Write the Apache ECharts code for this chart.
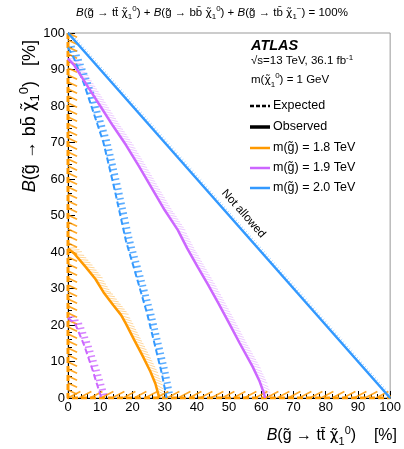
<!DOCTYPE html>
<html><head><meta charset="utf-8">
<script src="https://cdn.jsdelivr.net/npm/echarts@6/dist/echarts.min.js"></script>
<style>html,body{margin:0;padding:0;background:#fff}#c{width:404px;height:449px}</style>
</head><body><div id="c"></div>
<script>
// ---------- data (x = B(g->tt chi) %, y = B(g->bb chi) %) ----------
const xTickValues = [0,10,20,30,40,50,60,70,80,90,100];
const yTickValues = [0,10,20,30,40,50,60,70,80,90,100];
// observed contours
const obs18 = [[0,41],[1.9,39.6],[5.4,36],[8.5,32.6],[11,29],[14,25.5],[16.5,22.7],[18,20.3],[20.5,16],[23,11.8],[25.6,7.2],[27.1,4],[28.1,0.8],[28.3,0]];
const obs19 = [[0,93],[1.9,91.2],[6,85.5],[10,80],[14,74.5],[18,69.3],[22,63.5],[26,57.5],[30,51.5],[34.1,46],[37,41],[40.2,36],[43.5,31],[46.7,25.9],[50,20.5],[53.3,15],[57.3,8.6],[59.5,4.5],[60.8,1.3],[61.2,0]];
const obs20 = [[0,100],[25,75],[50,50],[75,25],[100,0]];
// expected contours
const exp18 = [[0,100],[0,0],[100,0]];
const exp19 = [[0,22],[2.4,20],[5,14.5],[7.5,8],[10,1],[10.4,0]];
const exp20 = [[0,96],[1.9,93],[5,86],[8,78],[11,70],[14.5,57],[18,43],[21,34],[24.6,23],[27.1,14],[29.1,6.8],[30.4,1],[30.6,0]];

const C18 = '#ff9900', C19 = '#cc66ff', C20 = '#3399ff';
const FONT = 'Liberation Sans, Arial, sans-serif';
const FONT_CHI = 'DejaVu Sans, Liberation Sans, sans-serif';

const chart = echarts.init(document.getElementById('c'), null, {renderer: 'canvas'});

function lineSeries(data, color, dashed, width) {
  return {
    type: 'line', data: data, showSymbol: false, symbol: 'none', silent: true, z: 5,
    lineStyle: {color: color, width: width, type: dashed ? [6, 3] : 'solid'},
    animation: false
  };
}

function hatchSeries(points, o) {
  return {
    type: 'custom', coordinateSystem: 'cartesian2d', silent: true, animation: false, z: 3, clip: true,
    data: [points[0]], encode: {x: 0, y: 1},
    renderItem: function (params, api) {
      const px = points.map(p => api.coord(p));
      const children = [];
      let carry = o.offset || 0;
      for (let i = 0; i < px.length - 1; i++) {
        const x0 = px[i][0], y0 = px[i][1], x1 = px[i + 1][0], y1 = px[i + 1][1];
        const dx = x1 - x0, dy = y1 - y0, len = Math.hypot(dx, dy);
        if (!len) continue;
        const ux = dx / len, uy = dy / len;
        let hx, hy;
        if (o.abs != null) {
          const a = o.abs * Math.PI / 180; hx = Math.cos(a); hy = -Math.sin(a);
        } else {
          const a = o.angle * Math.PI / 180;
          hx = ux * Math.cos(a) - uy * Math.sin(a); hy = ux * Math.sin(a) + uy * Math.cos(a);
        }
        let t = carry;
        while (t <= len) {
          const sx = x0 + ux * t, sy = y0 + uy * t;
          children.push({type: 'line', shape: {x1: sx, y1: sy, x2: sx + hx * o.len, y2: sy + hy * o.len},
            style: {stroke: o.color, lineWidth: o.width}});
          t += o.step;
        }
        carry = t - len;
      }
      return {type: 'group', children: children};
    }
  };
}

function mkRich(fs, lh) {
  return {
    i: {fontStyle: 'italic', fontFamily: FONT, fontSize: fs, lineHeight: lh, fill: '#000'},
    n: {fontFamily: FONT, fontSize: fs, lineHeight: lh, fill: '#000'},
    c: {fontFamily: FONT_CHI, fontSize: fs * 0.95, lineHeight: lh, fill: '#000'},
    sp: {fontFamily: FONT, fontSize: Math.round(fs * 0.7), lineHeight: Math.round(fs * 0.75), verticalAlign: 'top', fill: '#000'},
    sb: {fontFamily: FONT, fontSize: Math.round(fs * 0.7), lineHeight: Math.round(fs * 0.75), verticalAlign: 'bottom', fill: '#000'}
  };
}
const G = 'g\u0303', CHI = '\u03C7\u0303';
function br(prod, sup) {
  return '{i|B}{n|(' + G + ' \u2192 ' + prod + ' }{c|' + CHI + '}{sb|1}{sp|' + sup + '}{n|)}';
}
const titleText = br('tt\u0304', '0') + '{n| + }' + br('bb\u0304', '0') + '{n| + }' + br('tb\u0304', '\u2212') + '{n| = 100%}';
const xName = br('tt\u0304', '0') + '{n|    [%]}';
const yName = br('bb\u0304', '0') + '{n|   [%]}';

const legendRows = [
  {y: 106, label: 'Expected', color: '#000', dash: [4, 2], w: 2.5},
  {y: 127, label: 'Observed', color: '#000', dash: null, w: 3.5},
  {y: 148, label: 'm(' + G + ') = 1.8 TeV', color: C18, dash: null, w: 2.5},
  {y: 168, label: 'm(' + G + ') = 1.9 TeV', color: C19, dash: null, w: 2.5},
  {y: 188, label: 'm(' + G + ') = 2.0 TeV', color: C20, dash: null, w: 2.5}
];
const graphics = [
  {type: 'text', x: 212, y: 13, style: {text: titleText, rich: mkRich(11.5, 16), align: 'center', verticalAlign: 'middle'}},
  {type: 'text', x: 397, y: 436, style: {text: xName, rich: mkRich(16, 22), align: 'right', verticalAlign: 'middle'}},
  {type: 'text', x: 30, y: 40, rotation: Math.PI / 2, style: {text: yName, rich: mkRich(18, 24), align: 'right', verticalAlign: 'middle'}},
  {type: 'text', x: 251, y: 46, style: {text: 'ATLAS', fontFamily: FONT, fontWeight: 'bold', fontStyle: 'italic', fontSize: 14.5, fill: '#000', verticalAlign: 'middle'}},
  {type: 'text', x: 251, y: 61, style: {text: '{n|\u221As=13 TeV, 36.1 fb}{sp|-1}', rich: mkRich(11.5, 15), verticalAlign: 'middle'}},
  {type: 'text', x: 251, y: 80, style: {text: '{n|m(}{c|' + CHI + '}{sb|1}{sp|0}{n|) = 1 GeV}', rich: mkRich(11.5, 17), verticalAlign: 'middle'}}
];
legendRows.forEach(r => {
  graphics.push({type: 'line', shape: {x1: 250, y1: r.y, x2: 270, y2: r.y},
    style: {stroke: r.color, lineWidth: r.w, lineDash: r.dash}});
  graphics.push({type: 'text', x: 273, y: r.y, style: {text: r.label, fontFamily: FONT, fontSize: 12.5, fill: '#000', verticalAlign: 'middle'}});
});

const axisCommon = {
  type: 'value', min: 0, max: 100, interval: 10,
  axisLine: {show: true, onZero: false, lineStyle: {color: '#000', width: 1}},
  axisTick: {show: true, inside: true, length: 7, lineStyle: {color: '#000'}},
  minorTick: {show: true, splitNumber: 5, length: 4, lineStyle: {color: '#000'}},
  splitLine: {show: false},
  axisLabel: {color: '#000', fontFamily: FONT, fontSize: 13, margin: 3}
};

const option = {
  animation: false,
  backgroundColor: '#fff',
  grid: {left: 68, right: 7, top: 33, bottom: 51, show: true, borderColor: '#999', borderWidth: 1, containLabel: false},
  xAxis: Object.assign({}, axisCommon, {axisLabel: Object.assign({}, axisCommon.axisLabel, {
    formatter: v => xTickValues.indexOf(v) >= 0 ? String(v) : ''})}),
  yAxis: Object.assign({}, axisCommon, {axisLabel: Object.assign({}, axisCommon.axisLabel, {
    formatter: v => yTickValues.indexOf(v) >= 0 ? String(v) : ''})}),
  series: [
    // hatches
    hatchSeries(obs18, {angle: -45, len: 9, step: 3.2, color: 'rgba(255,153,0,0.4)', width: 1}),
    hatchSeries(obs19, {angle: -45, len: 9, step: 3.2, color: 'rgba(204,102,255,0.35)', width: 1}),
    hatchSeries(obs20, {angle: -90, len: 3, step: 3, color: 'rgba(51,153,255,0.45)', width: 1}),
    hatchSeries(exp20, {abs: 10, len: 7, step: 5, color: 'rgba(51,153,255,0.8)', width: 1.6}),
    hatchSeries(exp19, {abs: 10, len: 7, step: 5, color: 'rgba(204,102,255,0.8)', width: 1.6}),
    hatchSeries([[0, 100], [0, 0]], {abs: -25, len: 10, step: 7, color: 'rgba(255,153,0,0.85)', width: 1.6}),
    hatchSeries([[0, 0], [100, 0]], {abs: 28, len: 14, step: 11, color: 'rgba(255,153,0,0.85)', width: 1.6}),
    // lines
    lineSeries(exp18, C18, true, 3),
    lineSeries(exp19, C19, true, 2),
    lineSeries(exp20, C20, true, 2),
    lineSeries(obs18, C18, false, 2.5),
    lineSeries(obs19, C19, false, 2.5),
    lineSeries(obs20, C20, false, 2.5)
  ],
  graphic: graphics
};
chart.setOption(option);

// "Not allowed" annotation placed in data coordinates
const p00 = chart.convertToPixel({gridIndex: 0}, [0, 0]);
const p01 = chart.convertToPixel({gridIndex: 0}, [0, 100]);
const p10 = chart.convertToPixel({gridIndex: 0}, [100, 0]);
const naPos = chart.convertToPixel({gridIndex: 0}, [54.5, 50.5]);
graphics.push({type: 'text', x: naPos[0], y: naPos[1], rotation: -Math.atan2(p00[1] - p01[1], p10[0] - p00[0]),
  style: {text: 'Not allowed', fontFamily: FONT, fontSize: 11.5, fill: '#000', align: 'center', verticalAlign: 'middle'}});
chart.setOption({graphic: graphics});
</script></body></html>
